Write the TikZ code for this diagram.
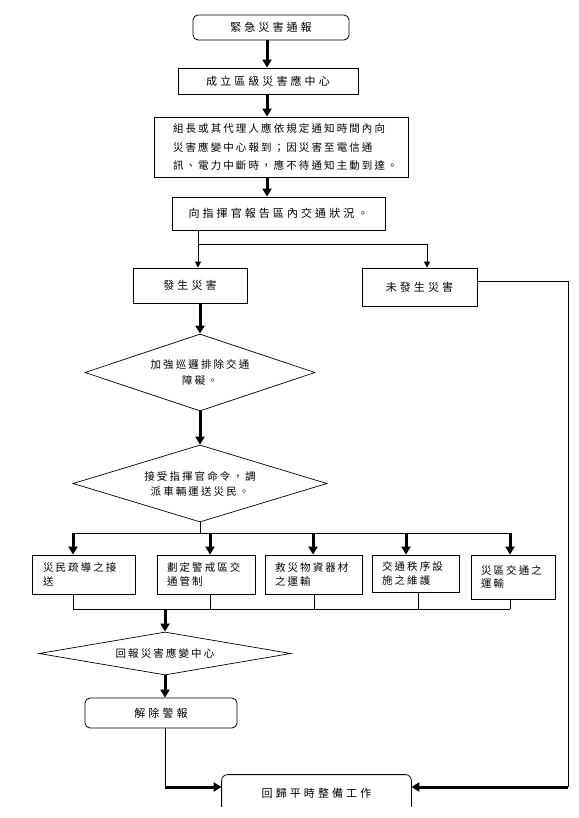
\documentclass[tikz,border=0pt]{standalone}
\usepackage{fontspec}
\newfontfamily\cjk[LetterSpace=20]{Noto Sans CJK TC}
\newfontfamily\cjkwide[LetterSpace=28]{Noto Sans CJK TC}
\usetikzlibrary{arrows.meta,shapes.geometric,positioning}

\begin{document}
\begin{tikzpicture}[
  x=1pt, y=-1pt,
  mybox/.style={
    draw,
    line width=0.8pt,
    inner sep=0pt,
    align=center,
    font=\cjkwide\fontsize{11}{15}\selectfont
    },
  myround/.style={
    mybox,
    rounded corners=5pt
    },
  mylist/.style={
    mybox,
    text width=#1,
    align=left,
    font=\cjk\fontsize{10.5}{13.5}\selectfont
    },
  mydiamond/.style={
    diamond,
    draw,
    line width=0.7pt,
    aspect=3.5,
    inner sep=0pt,
    align=center,
    font=\cjk\fontsize{10.5}{16}\selectfont
    },
  myline/.style={line width=0.8pt},
  myarrow/.style={line width=0.8pt, -{Triangle[length=6pt,width=6pt]}},
  mythick/.style={line width=3pt, -{Triangle[length=8pt,width=9pt]}}
]

\useasboundingbox (0,0) rectangle (578,818);

\node[myround, minimum width=156pt, minimum height=25pt] (notice) at (271,27.5) {緊急災害通報};
\node[mybox, minimum width=180pt, minimum height=26pt] (center) at (268,81) {成立區級災害應中心};
\node[mybox, minimum width=254pt, minimum height=60pt, text width=216pt, align=left,
  font=\cjk\fontsize{10.5}{18.5}\selectfont]
  (report) at (281,147)
  {組長或其代理人應依規定通知時間內向\\
   災害應變中心報到；因災害至電信通\\
   訊、電力中斷時，應不待通知主動到達。};
\node[mybox, minimum width=213pt, minimum height=33pt] (traffic) at (278.5,213.5) {向指揮官報告區內交通狀況。};

\node[mybox, minimum width=114pt, minimum height=35pt] (occur) at (190,285.5) {發生災害};
\node[mybox, minimum width=115pt, minimum height=38pt] (noocc) at (419.5,287) {未發生災害};

\node[mydiamond, minimum width=230pt, minimum height=77pt] (patrol) at (200,372.5) {加強巡邏排除交通\\障礙。};
\node[mydiamond, minimum width=254pt, minimum height=77pt,
  font=\cjk\fontsize{10.5}{15}\selectfont]
  (dispatch) at (200,483.5) {接受指揮官命令，調\\派車輛運送災民。};

\node[mylist=81pt, minimum width=103pt, minimum height=39pt] (care) at (83.5,574.5) {災民疏導之接\\送};
\node[mylist=78pt, minimum width=98pt, minimum height=39pt] (zone) at (206,574.5) {劃定警戒區交\\通管制};
\node[mylist=77pt, minimum width=97pt, minimum height=39pt] (relief) at (313.5,574.5) {救災物資器材\\之運輸};
\node[mylist=67pt, minimum width=87pt, minimum height=37pt] (order) at (415.5,573.5) {交通秩序設\\施之維護};
\node[mylist=64pt, minimum width=84pt, minimum height=44pt] (area) at (513,577) {災區交通之\\運輸};

\node[mydiamond, minimum width=252pt, minimum height=43pt] (back2center) at (165,653.5) {回報災害應變中心};
\node[myround, minimum width=152pt, minimum height=30pt] (release) at (161,713) {解除警報};
\node[myround, draw=none, minimum width=189pt, minimum height=37pt] (back) at (316.5,793.5) {回歸平時整備工作};
\begin{scope}
  \clip (0,0) rectangle (578,806);
  \draw[myline, rounded corners=6pt] (back.south west) rectangle (back.north east);
\end{scope}

% spine of the first steps
\coordinate (spine) at (267,0);
\draw[mythick] (notice.south -| spine) -- (center.north -| spine);
\draw[mythick] (center.south -| spine) -- (report.north -| spine);
\draw[mythick] (report.south -| spine) -- (traffic.north -| spine);

% branch
\coordinate (split) at (198,244);
\coordinate (splitr) at (427,244);
\draw[myline] (traffic.south -| split) -- (split);
\draw[myarrow] (split) -- (occur.north -| split);
\draw[myarrow] (split) -- (splitr) -- (noocc.north -| splitr);

\draw[mythick] (occur.south -| patrol.north) -- (patrol.north);
\draw[mythick] (patrol.south) -- (dispatch.north);

% fan out and in
\coordinate (fan) at (0,533);
\coordinate (gather) at (0,609);
\draw[myline] (dispatch.south) -- (dispatch.south |- fan);
\foreach \Box/\Top/\Bot in {care/73/73, zone/210/210, relief/313/314, order/406/418, area/510/510}
  {
  \coordinate (t\Box) at (\Top,533);
  \coordinate (b\Box) at (\Bot,609);
  \draw[mythick] (t\Box) -- (\Box.north -| t\Box);
  \draw[myline] (\Box.south -| b\Box) -- (b\Box);
  }
\draw[myline] (tcare) -- (tarea);
\draw[myline] (bcare) -- (barea);

\coordinate (join) at (165,609);
\draw[mythick] (join) -- (back2center.north);
\draw[mythick] (back2center.south) -- (release.north -| back2center.south);

\coordinate (corner) at (165,787);
\draw[myline] (release.south -| corner) -- (corner);
\draw[mythick] (corner) -- (back.west |- corner);

\coordinate (rtop) at (568,281);
\coordinate (rbot) at (568,787);
\draw[myline] (noocc.east |- rtop) -- (rtop) -- (rbot);
\draw[mythick] (rbot) -- (back.east |- rbot);

\end{tikzpicture}
\end{document}
